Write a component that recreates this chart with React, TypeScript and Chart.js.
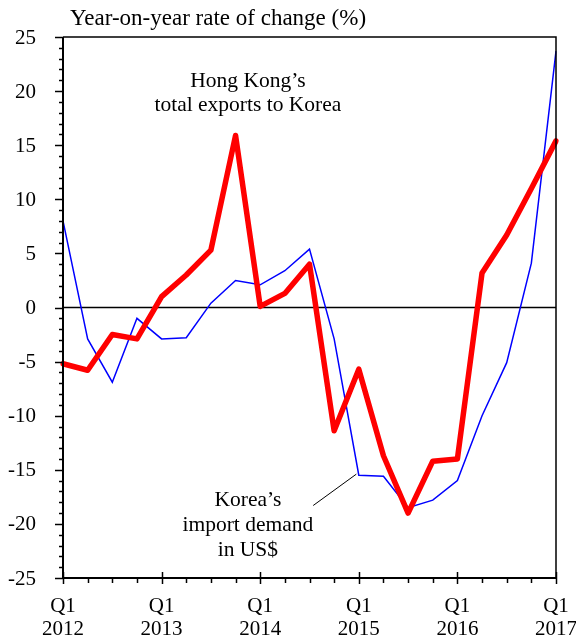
import React, { useEffect, useRef } from "react";
import { Chart, registerables } from "chart.js";

Chart.register(...registerables);

const quarters = [
  "Q1 2012", "Q2 2012", "Q3 2012", "Q4 2012",
  "Q1 2013", "Q2 2013", "Q3 2013", "Q4 2013",
  "Q1 2014", "Q2 2014", "Q3 2014", "Q4 2014",
  "Q1 2015", "Q2 2015", "Q3 2015", "Q4 2015",
  "Q1 2016", "Q2 2016", "Q3 2016", "Q4 2016",
  "Q1 2017",
];

const hkExportsToKorea = [
  -5.2, -5.8, -2.5, -2.9,
  1.0, 3.0, 5.3, 15.9,
  0.1, 1.3, 4.0, -11.4,
  -5.7, -13.7, -19.0, -14.2,
  -14.0, 3.2, 6.7, 11.0,
  15.4,
];

const koreaImportDemand = [
  8.0, -2.9, -6.9, -1.0,
  -2.9, -2.8, 0.4, 2.5,
  2.1, 3.4, 5.4, -2.9,
  -15.5, -15.6, -18.5, -17.8,
  -16.0, -10.0, -5.1, 4.1,
  23.7,
];

const yTickValues = [25, 20, 15, 10, 5, 0, -5, -10, -15, -20, -25];
const yMinorStep = 1;
const xMajorIndices = [0, 4, 8, 12, 16, 20];
const xMajorLabels = [
  ["Q1", "2012"], ["Q1", "2013"], ["Q1", "2014"],
  ["Q1", "2015"], ["Q1", "2016"], ["Q1", "2017"],
];

const titleText = "Year-on-year rate of change (%)";
const hkLabel = ["Hong Kong\u2019s", "total exports to Korea"];
const koreaLabel = ["Korea\u2019s", "import demand", "in US$"];

const FAMILY = '"Liberation Serif", "Times New Roman", serif';
const TICK_FONT = `21px ${FAMILY}`;
const NOTE_FONT = `21.5px ${FAMILY}`;
const TITLE_FONT = `23px ${FAMILY}`;

const decorPlugin = {
  id: "decor",
  beforeDatasetsDraw(chart: any) {
    const { ctx, chartArea, scales } = chart;
    const y0 = scales.y.getPixelForValue(0);
    ctx.save();
    ctx.strokeStyle = "#000";
    ctx.lineWidth = 1.5;
    ctx.beginPath();
    ctx.moveTo(chartArea.left, y0);
    ctx.lineTo(chartArea.right, y0);
    ctx.stroke();
    ctx.restore();
  },
  afterDraw(chart: any) {
    const { ctx, chartArea, scales } = chart;
    const { left, right, top, bottom } = chartArea;
    const xs = scales.x;
    const ys = scales.y;
    ctx.save();
    ctx.strokeStyle = "#000";
    ctx.fillStyle = "#000";

    // frame
    ctx.lineWidth = 1.5;
    ctx.beginPath();
    ctx.moveTo(left, top);
    ctx.lineTo(right, top);
    ctx.lineTo(right, bottom);
    ctx.stroke();
    ctx.lineWidth = 2;
    ctx.beginPath();
    ctx.moveTo(left, top);
    ctx.lineTo(left, bottom);
    ctx.lineTo(right, bottom);
    ctx.stroke();

    // y ticks
    ctx.lineWidth = 1.5;
    const yMin = ys.min;
    const yMax = ys.max;
    for (let v = yMin; v <= yMax + 1e-9; v += yMinorStep) {
      const py = Math.round(ys.getPixelForValue(v)) + 0.5;
      const major = Math.abs(v % 5) < 1e-9;
      ctx.beginPath();
      ctx.moveTo(left - (major ? 8 : 4), py);
      ctx.lineTo(left, py);
      ctx.stroke();
    }
    ctx.font = TICK_FONT;
    ctx.textAlign = "right";
    ctx.textBaseline = "middle";
    yTickValues.forEach((v) => {
      ctx.fillText(String(v), left - 27, ys.getPixelForValue(v) + 1);
    });

    // x ticks
    for (let i = 0; i < quarters.length; i++) {
      const px = Math.round(xs.getPixelForValue(i)) + 0.5;
      const major = xMajorIndices.includes(i);
      ctx.beginPath();
      ctx.moveTo(px, major ? bottom - 6 : bottom);
      ctx.lineTo(px, bottom + (major ? 6 : 5));
      ctx.stroke();
    }
    ctx.textAlign = "center";
    ctx.textBaseline = "alphabetic";
    xMajorIndices.forEach((idx, k) => {
      const px = xs.getPixelForValue(idx);
      ctx.fillText(xMajorLabels[k][0], px, bottom + 34);
      ctx.fillText(xMajorLabels[k][1], px, bottom + 57);
    });

    // title
    ctx.font = TITLE_FONT;
    ctx.textAlign = "left";
    ctx.fillText(titleText, 70, 25);

    // annotations
    ctx.font = NOTE_FONT;
    ctx.textAlign = "center";
    const ax = xs.getPixelForValue(7.5);
    const hkY = ys.getPixelForValue(20.4);
    hkLabel.forEach((t, i) => ctx.fillText(t, ax, hkY + i * 24));
    const kY = ys.getPixelForValue(-18.3);
    koreaLabel.forEach((t, i) => ctx.fillText(t, ax, kY + i * 25));

    // leader line
    ctx.lineWidth = 1;
    ctx.beginPath();
    ctx.moveTo(xs.getPixelForValue(10.15), ys.getPixelForValue(-18.3));
    ctx.lineTo(xs.getPixelForValue(11.9), ys.getPixelForValue(-15.4));
    ctx.stroke();

    ctx.restore();
  },
};

export default function App() {
  const ref = useRef<HTMLCanvasElement | null>(null);
  useEffect(() => {
    if (!ref.current) return;
    const chart = new Chart(ref.current, {
      type: "line",
      data: {
        labels: quarters,
        datasets: [
          {
            label: "Hong Kong's total exports to Korea",
            data: hkExportsToKorea,
            borderColor: "#ff0000",
            borderWidth: 5.5,
            borderJoinStyle: "round",
            borderCapStyle: "round",
            pointRadius: 0,
            tension: 0,
            fill: false,
          },
          {
            label: "Korea's import demand in US$",
            data: koreaImportDemand,
            borderColor: "#0000ff",
            borderWidth: 1.5,
            pointRadius: 0,
            tension: 0,
            fill: false,
          },
        ],
      },
      options: {
        responsive: false,
        animation: false,
        layout: { padding: { left: 63, right: 20, top: 37, bottom: 64 } },
        plugins: {
          legend: { display: false },
          tooltip: { enabled: false },
        },
        scales: {
          x: { type: "category", display: false, offset: false },
          y: { type: "linear", display: false, min: -25, max: 25 },
        },
      },
      plugins: [decorPlugin],
    });
    return () => chart.destroy();
  }, []);
  return (
    <div style={{ position: "absolute", left: 0, top: 0, width: 576, height: 642 }}>
      <canvas ref={ref} width={576} height={642} style={{ width: 576, height: 642 }} />
    </div>
  );
}
